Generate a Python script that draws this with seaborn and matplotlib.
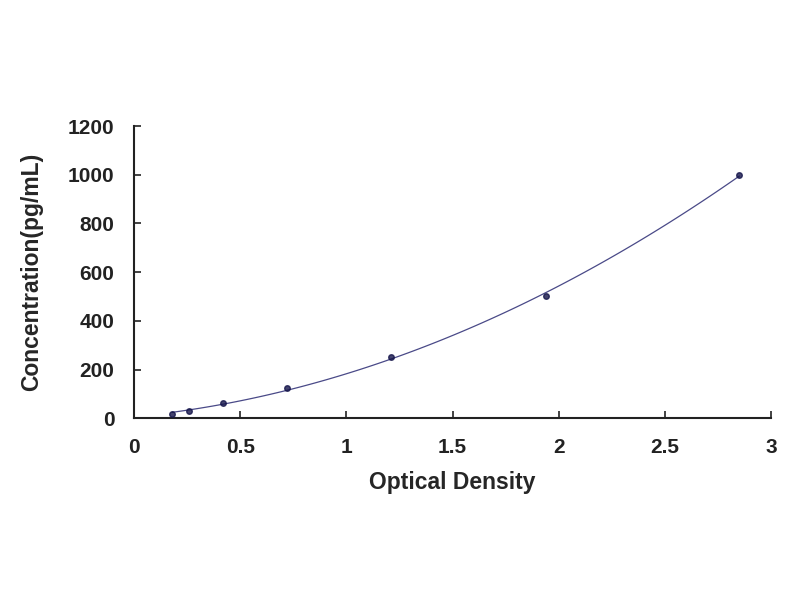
import matplotlib
matplotlib.use('Agg')
import matplotlib.pyplot as plt
import seaborn as sns
import pandas as pd

# standard curve points
od = [0.18, 0.26, 0.42, 0.72, 1.21, 1.94, 2.85]
conc = [15.6, 31.25, 62.5, 125, 250, 500, 1000]

df = pd.DataFrame({'Optical Density': od, 'Concentration': conc})

sns.set_style('white')
plt.rcParams['font.family'] = ['Liberation Sans', 'DejaVu Sans']

fig = plt.figure(figsize=(8, 6), dpi=100)
ax = fig.add_axes([0.1675, 0.303, 0.7965, 0.487])

sns.regplot(data=df, x='Optical Density', y='Concentration', order=2, ci=None,
            truncate=True, ax=ax,
            scatter_kws={'s': 16, 'color': '#14144a', 'marker': 'D', 'zorder': 3},
            line_kws={'color': '#4a4a88', 'lw': 0.9})

ax.set_xlim(0, 3)
ax.set_ylim(0, 1200)
ax.set_xticks([0, 0.5, 1, 1.5, 2, 2.5, 3])
ax.set_xticklabels(['0', '0.5', '1', '1.5', '2', '2.5', '3'])
ax.set_yticks([0, 200, 400, 600, 800, 1000, 1200])

for s in ['top', 'right']:
    ax.spines[s].set_visible(False)
for s in ['left', 'bottom']:
    ax.spines[s].set_color('#222222')
    ax.spines[s].set_linewidth(1.5)

ax.tick_params(direction='in', length=5, width=1.2, colors='#222222',
               labelsize=15, left=True, bottom=True)
ax.tick_params(axis='x', pad=14)
ax.tick_params(axis='y', pad=14)
for lab in ax.get_xticklabels() + ax.get_yticklabels():
    lab.set_fontweight('bold')

ax.set_xlabel('Optical Density', fontsize=16.5, fontweight='bold', labelpad=10)
ax.set_ylabel('Concentration(pg/mL)', fontsize=16.5, fontweight='bold', labelpad=18)

fig.savefig('out.png', dpi=100)
